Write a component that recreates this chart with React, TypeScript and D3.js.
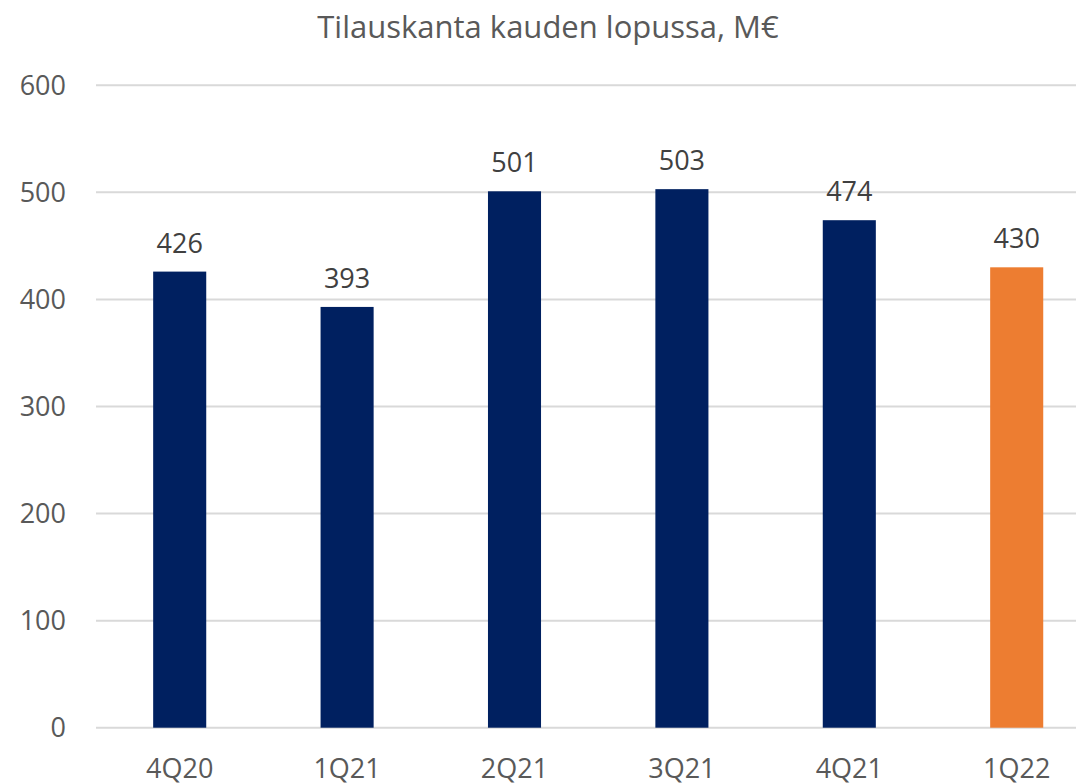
import React from "react";
import * as d3 from "d3";

const categories = ["4Q20", "1Q21", "2Q21", "3Q21", "4Q21", "1Q22"];
const values = [426, 393, 501, 503, 474, 430];
const barColors = ["#002060", "#002060", "#002060", "#002060", "#002060", "#ED7D31"];
const yTicks = [0, 100, 200, 300, 400, 500, 600];
const title = "Tilauskanta kauden lopussa, M€";

const W = 1076;
const H = 783;
const FONT = "'Open Sans', 'Liberation Sans', sans-serif";

export default function App() {
  const x = d3
    .scaleBand<string>()
    .domain(categories)
    .range([96, 1100.4])
    .paddingInner(0.683)
    .paddingOuter(0.3415);
  const y = d3.scaleLinear().domain([0, 600]).range([727.7, 85.3]);

  return (
    <svg
      width={W}
      height={H}
      style={{ position: "absolute", left: 0, top: 0, background: "#fff" }}
      fontFamily={FONT}
    >
      <text x={548} y={38} textAnchor="middle" fontSize={31} fill="#595959">
        {title}
      </text>
      {yTicks.map((t) => (
        <g key={t}>
          <line x1={96} x2={W} y1={y(t)} y2={y(t)} stroke="#d9d9d9" strokeWidth={2} />
          <text
            x={66}
            y={y(t)}
            dy="0.35em"
            textAnchor="end"
            fontSize={27}
            fill="#595959"
          >
            {t}
          </text>
        </g>
      ))}
      {categories.map((c, i) => (
        <g key={c}>
          <rect
            x={x(c)}
            y={y(values[i])}
            width={x.bandwidth()}
            height={y(0) - y(values[i])}
            fill={barColors[i]}
          />
          <text
            x={(x(c) as number) + x.bandwidth() / 2}
            y={y(values[i]) - 19}
            textAnchor="middle"
            fontSize={27}
            fill="#404040"
          >
            {values[i]}
          </text>
          <text
            x={(x(c) as number) + x.bandwidth() / 2}
            y={778}
            textAnchor="middle"
            fontSize={27}
            fill="#595959"
          >
            {c}
          </text>
        </g>
      ))}
    </svg>
  );
}
